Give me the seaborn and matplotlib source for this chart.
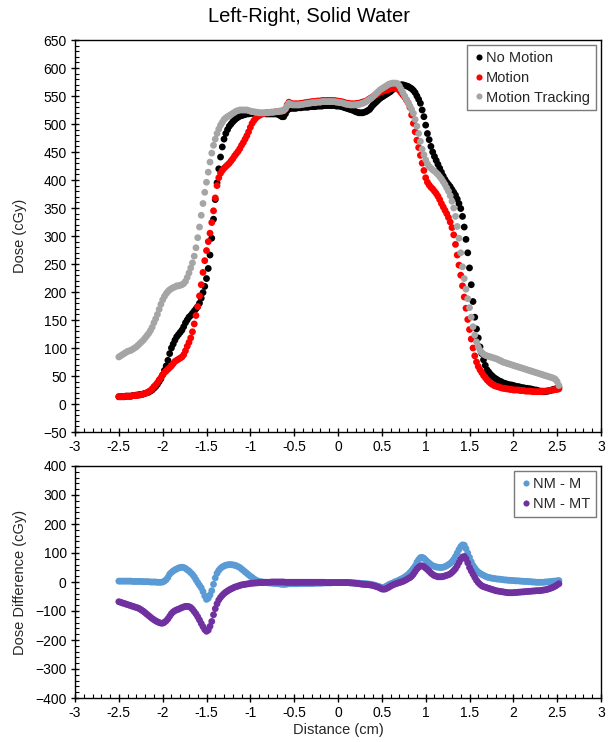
import numpy as np
import pandas as pd
import matplotlib
matplotlib.use("Agg")
import matplotlib.pyplot as plt
from matplotlib.ticker import MultipleLocator
import seaborn as sns

# Detector positions across the profile (cm), 0.02 cm pitch
distance_cm = np.round(np.arange(252) * 0.02 - 2.50, 2)

# Measured dose profiles (cGy)
no_motion = [
    13, 13, 13, 13, 14, 14, 14, 14, 15, 15,
    16, 16, 17, 17, 18, 19, 20, 21, 23, 25,
    28, 31, 35, 40, 45, 52, 60, 68, 78, 90,
    100, 107, 114, 120, 124, 128, 132, 138, 145, 150,
    155, 158, 162, 166, 170, 174, 180, 189, 199, 210,
    224, 242, 266, 296, 330, 365, 395, 420, 441, 459,
    473, 483, 490, 496, 500, 504, 507, 510, 512, 514,
    515, 516, 517, 518, 518, 519, 519, 519, 519, 519,
    519, 519, 519, 519, 518, 518, 518, 518, 518, 518,
    518, 517, 515, 513, 513, 518, 524, 527, 528, 528,
    528, 528, 529, 529, 529, 530, 530, 530, 530, 531,
    531, 531, 531, 532, 532, 532, 532, 533, 533, 533,
    533, 533, 533, 533, 532, 532, 532, 531, 530, 529,
    528, 527, 526, 525, 524, 522, 521, 520, 520, 520,
    521, 522, 524, 526, 530, 534, 537, 540, 543, 546,
    548, 550, 552, 554, 556, 558, 561, 564, 566, 568,
    569, 570, 570, 569, 568, 567, 565, 563, 560, 556,
    550, 544, 537, 525, 513, 498, 483, 472, 460, 450,
    442, 435, 428, 421, 414, 407, 401, 396, 392, 388,
    383, 378, 373, 366, 358, 349, 335, 316, 294, 270,
    243, 213, 183, 155, 134, 118, 102, 90, 79, 69,
    61, 57, 53, 50, 47, 45, 43, 41, 40, 38,
    37, 36, 35, 34, 34, 33, 32, 31, 31, 30,
    29, 29, 28, 28, 27, 27, 26, 25, 25, 24,
    23, 23, 22, 22, 23, 23, 24, 25, 26, 27,
    28, 30,
]

motion = [
    13, 13, 13, 13, 14, 14, 14, 14, 15, 15,
    15, 16, 16, 17, 18, 19, 20, 22, 24, 27,
    31, 34, 38, 43, 47, 52, 56, 59, 62, 65,
    68, 72, 76, 78, 80, 82, 84, 88, 95, 103,
    110, 118, 129, 143, 158, 174, 193, 213, 235, 256,
    274, 290, 305, 324, 345, 368, 390, 404, 412, 417,
    421, 424, 427, 430, 434, 438, 443, 447, 451, 456,
    462, 467, 473, 479, 486, 494, 501, 506, 510, 513,
    515, 517, 518, 519, 520, 520, 520, 521, 521, 521,
    522, 522, 523, 523, 524, 527, 534, 539, 537, 536,
    536, 536, 536, 536, 537, 537, 538, 538, 539, 539,
    540, 540, 540, 541, 541, 541, 542, 542, 542, 542,
    542, 542, 542, 542, 541, 541, 540, 540, 539, 538,
    537, 537, 536, 536, 536, 536, 537, 537, 538, 539,
    540, 541, 543, 545, 547, 549, 551, 553, 555, 557,
    558, 559, 560, 561, 562, 563, 564, 564, 564, 563,
    560, 556, 552, 548, 543, 538, 530, 516, 501, 486,
    471, 458, 444, 430, 417, 404, 396, 391, 387, 384,
    380, 376, 371, 365, 358, 352, 346, 340, 333, 325,
    315, 302, 285, 266, 248, 230, 211, 191, 171, 151,
    133, 116, 100, 86, 75, 67, 61, 56, 51, 47,
    43, 40, 37, 35, 33, 32, 31, 30, 29, 28,
    28, 27, 27, 26, 26, 25, 25, 25, 25, 24,
    24, 24, 23, 23, 23, 23, 22, 22, 22, 22,
    22, 22, 23, 23, 23, 24, 24, 25, 25, 26,
    26, 27,
]

motion_tracking = [
    84, 86, 88, 90, 92, 94, 95, 96, 98, 100,
    102, 105, 108, 111, 114, 118, 122, 126, 131, 137,
    145, 152, 160, 169, 178, 186, 192, 197, 201, 204,
    206, 208, 209, 211, 211, 212, 213, 215, 219, 226,
    234, 243, 252, 264, 279, 297, 316, 337, 358, 378,
    396, 414, 432, 448, 462, 473, 483, 491, 498, 503,
    508, 511, 513, 515, 517, 519, 521, 523, 524, 525,
    525, 525, 525, 525, 524, 523, 522, 522, 521, 521,
    520, 520, 520, 520, 520, 520, 521, 521, 521, 522,
    522, 522, 523, 523, 524, 527, 532, 537, 535, 534,
    534, 534, 534, 534, 535, 535, 536, 536, 537, 537,
    538, 538, 538, 539, 539, 539, 540, 540, 540, 540,
    540, 540, 540, 540, 539, 539, 538, 538, 537, 536,
    535, 535, 534, 534, 534, 534, 535, 535, 536, 537,
    538, 540, 542, 544, 546, 549, 552, 555, 558, 561,
    563, 565, 567, 569, 571, 572, 573, 573, 573, 572,
    568, 562, 556, 550, 544, 538, 532, 526, 519, 508,
    496, 483, 469, 455, 445, 436, 429, 424, 421, 418,
    416, 413, 410, 406, 402, 397, 392, 386, 380, 372,
    362, 350, 335, 317, 296, 270, 245, 224, 205, 188,
    172, 155, 138, 123, 111, 102, 96, 92, 89, 87,
    86, 85, 84, 83, 82, 81, 80, 78, 77, 75,
    74, 73, 72, 71, 70, 69, 68, 67, 66, 65,
    64, 63, 62, 61, 60, 59, 58, 57, 56, 55,
    54, 53, 52, 51, 50, 49, 48, 47, 46, 44,
    40, 33,
]

# Dose differences (cGy)
nm_minus_m = [
    3, 3, 3, 3, 3, 3, 3, 3, 2, 2,
    2, 2, 2, 2, 1, 1, 1, 1, 0, 0,
    0, 0, -1, -1, -1, 0, 3, 8, 16, 27,
    33, 38, 42, 45, 48, 50, 51, 50, 47, 42,
    38, 32, 26, 18, 8, -2, -11, -20, -33, -48,
    -60, -56, -45, -30, -8, 14, 30, 40, 47, 52,
    55, 58, 59, 60, 60, 59, 58, 56, 53, 50,
    45, 40, 35, 30, 25, 20, 16, 11, 7, 4,
    2, 1, 0, -1, -2, -3, -3, -4, -4, -5,
    -5, -6, -7, -8, -8, -8, -7, -6, -6, -6,
    -6, -6, -6, -5, -5, -5, -5, -5, -5, -5,
    -5, -5, -4, -4, -4, -4, -4, -3, -3, -3,
    -3, -3, -2, -2, -2, -2, -2, -2, -2, -2,
    -2, -2, -3, -3, -3, -4, -4, -4, -5, -5,
    -6, -6, -7, -7, -8, -10, -11, -13, -15, -17,
    -20, -19, -16, -13, -9, -6, -4, -1, 2, 4,
    7, 10, 13, 17, 21, 26, 32, 39, 47, 55,
    68, 77, 84, 85, 82, 76, 70, 65, 60, 56,
    54, 52, 51, 50, 50, 51, 53, 56, 60, 64,
    70, 78, 88, 100, 112, 122, 128, 127, 115, 100,
    85, 70, 57, 48, 40, 34, 30, 26, 23, 20,
    17, 16, 14, 13, 12, 11, 10, 10, 9, 8,
    7, 7, 6, 6, 5, 5, 4, 4, 4, 3,
    3, 2, 2, 2, 1, 1, 0, 0, -1, -1,
    -1, -1, -1, 0, 0, 1, 1, 2, 3, 3,
    4, 5,
]

nm_minus_mt = [
    -68, -70, -72, -74, -76, -78, -80, -82, -84, -86,
    -88, -90, -93, -97, -101, -106, -111, -116, -121, -126,
    -130, -134, -137, -140, -142, -142, -139, -134, -127, -118,
    -109, -103, -99, -96, -94, -91, -88, -86, -84, -84,
    -85, -88, -94, -102, -110, -120, -131, -143, -154, -164,
    -170, -166, -153, -136, -113, -92, -75, -62, -53, -46,
    -40, -35, -31, -27, -24, -21, -18, -16, -14, -12,
    -10, -9, -8, -7, -6, -5, -4, -4, -3, -3,
    -2, -2, -2, -1, -1, -1, -1, 0, 0, 0,
    0, 0, 0, 0, 0, -1, -1, -1, -1, -1,
    -1, -1, -1, -1, -1, -1, -1, -1, -1, -1,
    -1, -1, -1, -1, -1, -1, -1, -1, -2, -2,
    -2, -2, -2, -2, -2, -2, -2, -2, -2, -2,
    -2, -2, -3, -3, -4, -4, -5, -6, -7, -8,
    -8, -9, -9, -10, -11, -12, -14, -16, -18, -21,
    -24, -25, -24, -21, -18, -14, -11, -8, -6, -4,
    -2, 0, 2, 5, 8, 12, 15, 20, 27, 36,
    45, 51, 55, 56, 53, 48, 43, 37, 31, 26,
    22, 20, 18, 18, 18, 19, 21, 23, 25, 28,
    33, 39, 46, 56, 67, 78, 86, 88, 80, 66,
    50, 38, 27, 16, 6, -2, -8, -13, -16, -18,
    -20, -22, -24, -26, -28, -30, -31, -32, -33, -34,
    -35, -36, -37, -37, -37, -37, -36, -36, -35, -35,
    -34, -34, -33, -33, -32, -32, -31, -31, -30, -30,
    -30, -29, -28, -27, -26, -24, -22, -20, -17, -14,
    -10, -6,
]

profile_labels = ["No Motion", "Motion", "Motion Tracking"]
profile_colors = ["#000000", "#FF0000", "#A5A5A5"]
diff_labels = ["NM - M", "NM - MT"]
diff_colors = ["#5B9BD5", "#7030A0"]

sns.set_theme(style="white")
plt.rcParams["font.family"] = ["Liberation Sans", "DejaVu Sans"]
plt.rcParams["axes.edgecolor"] = "#000000"
plt.rcParams["axes.linewidth"] = 1.0

profiles = pd.concat(
    [pd.DataFrame({"Distance": distance_cm, "Dose": vals, "Series": lab})
     for vals, lab in zip([no_motion, motion, motion_tracking], profile_labels)],
    ignore_index=True,
)
diffs = pd.concat(
    [pd.DataFrame({"Distance": distance_cm, "Diff": vals, "Series": lab})
     for vals, lab in zip([nm_minus_m, nm_minus_mt], diff_labels)],
    ignore_index=True,
)

W, H = 608, 742
fig = plt.figure(figsize=(W / 100, H / 100), dpi=100)
ax1 = fig.add_axes([75 / W, 1 - 432 / H, 526 / W, 392 / H])
ax2 = fig.add_axes([75 / W, 1 - 698 / H, 526 / W, 232 / H])

sns.scatterplot(data=profiles, x="Distance", y="Dose", hue="Series",
                hue_order=profile_labels, palette=profile_colors,
                s=24, linewidth=0, ax=ax1)
sns.scatterplot(data=diffs, x="Distance", y="Diff", hue="Series",
                hue_order=diff_labels, palette=diff_colors,
                s=24, linewidth=0, ax=ax2)


def style_axes(ax, ymin, ymax, ymajor, yminor):
    ax.set_xlim(-3, 3)
    ax.set_ylim(ymin, ymax)
    ax.xaxis.set_major_locator(MultipleLocator(0.5))
    ax.xaxis.set_minor_locator(MultipleLocator(0.1))
    ax.yaxis.set_major_locator(MultipleLocator(ymajor))
    ax.yaxis.set_minor_locator(MultipleLocator(yminor))
    ax.tick_params(which="major", direction="inout", length=6, width=1,
                   colors="#000000", labelsize=10, pad=3,
                   left=True, bottom=True, top=False, right=False)
    ax.tick_params(which="minor", direction="in", length=3, width=0.8,
                   colors="#000000", left=True, bottom=True, top=False, right=False)
    ax.xaxis.set_major_formatter(plt.FuncFormatter(lambda v, p: f"{v:g}"))
    for sp in ax.spines.values():
        sp.set_visible(True)
        sp.set_color("#000000")
        sp.set_linewidth(1.0)


style_axes(ax1, -50, 650, 50, 10)
style_axes(ax2, -400, 400, 100, 20)

ax1.set_xlabel("")
ax1.set_ylabel("Dose (cGy)", fontsize=10.5)
ax1.yaxis.set_label_coords(-0.092, 0.5)
ax2.set_xlabel("Distance (cm)", fontsize=10.5, labelpad=2)
ax2.set_ylabel("Dose Difference (cGy)", fontsize=10.5)
ax2.yaxis.set_label_coords(-0.092, 0.5)

fig.text(309 / W, 1 - 16 / H, "Left-Right, Solid Water", ha="center", va="center",
         fontsize=14.5, color="#000000")

for ax in (ax1, ax2):
    handles, labels = ax.get_legend_handles_labels()
    leg = ax.legend(handles, labels, loc="upper right", fontsize=10.5,
                    frameon=True, fancybox=False, edgecolor="#595959",
                    borderaxespad=0.35, handletextpad=0.1, handlelength=0.8,
                    labelspacing=0.4, borderpad=0.4, markerscale=0.9)
    leg.get_frame().set_linewidth(1.0)

fig.savefig("out.png", dpi=100, facecolor="white")
